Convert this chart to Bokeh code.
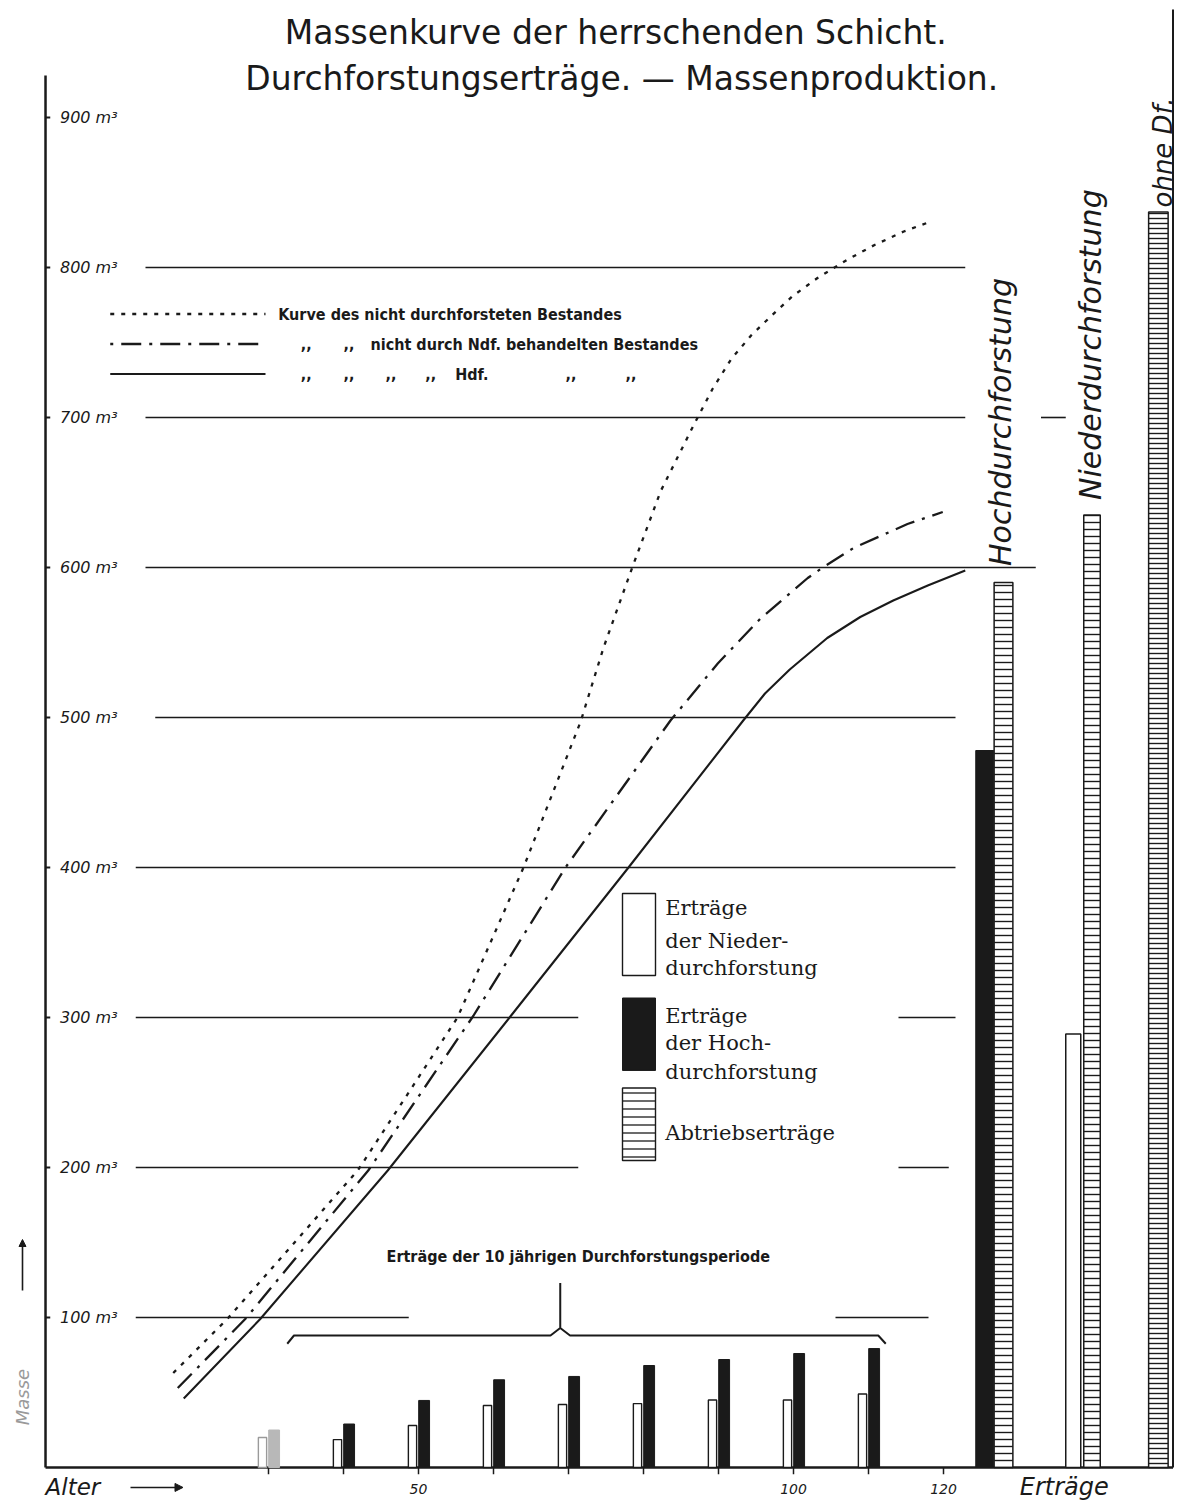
from bokeh.plotting import figure
from bokeh.models import Label, Arrow, NormalHead, Range1d
from bokeh.embed import file_html
from bokeh.resources import INLINE
from bokeh.core.properties import value

# ---------------- data ----------------
# curves: standing volume (m3) over stand age (years)
curve_ohne_age = [17.3, 24.5, 41.9, 48.3, 55.2, 64.0, 71.6, 74.7, 78.5, 82.3, 86.7, 89.2, 91.7, 94.4, 97.1,
                  99.9, 103.2, 107.1, 110.8, 114.7, 118.5]
curve_ohne_vol = [63, 99, 198, 247, 300, 400, 497, 547, 600, 651, 695, 719, 739, 755, 768,
                  781, 793, 805, 815, 824, 831]
curve_ndf_age = [17.9, 26.9, 43.3, 57.3, 69.6, 83.6, 89.9, 95.6, 101.9, 103.9, 108.0, 115.2, 119.9]
curve_ndf_vol = [53, 99, 198, 301, 400, 498, 536, 566, 593, 600, 613, 629, 637]
curve_hdf_age = [18.7, 28.9, 45.9, 62.3, 78.0, 93.3, 96.2, 99.5, 104.5, 108.9, 113.3, 117.9, 122.9]
curve_hdf_vol = [46, 99, 198, 301, 400, 498, 516, 532, 553, 567, 578, 588, 598]

# 10-year thinning yields
thin_ages = [30, 40, 50, 60, 70, 80, 90, 100, 110]
thin_nieder = [20, 18.6, 28, 41.3, 42, 42.6, 45, 45, 49]
thin_hoch = [25, 29, 44.7, 58.5, 60.7, 68, 72, 76, 79.3]

# totals on the right
final_groups = ["Hochdurchforstung", "Niederdurchforstung", "ohne Df."]
final_thinning = [478, 289, 0]
final_harvest = [590, 635, 837]

y_tick_vals = [900, 800, 700, 600, 500, 400, 300, 200, 100]
y_tick_labels = ["900 m³", "800 m³", "700 m³", "600 m³", "500 m³", "400 m³", "300 m³", "200 m³", "100 m³"]
x_tick_vals = [30, 40, 50, 60, 70, 80, 90, 100, 110, 120]
x_label_vals = [50, 100, 120]
x_label_text = ["50", "100", "120"]

# partial horizontal rules (level, from age, to age)
grid_levels = [800, 700, 700, 600, 500, 400, 300, 300, 200, 200, 100, 100]
grid_from = [13.6, 13.6, 133.0, 13.6, 14.9, 12.3, 12.3, 114.0, 12.3, 114.0, 12.3, 105.6]
grid_to = [122.9, 122.9, 136.3, 132.3, 121.6, 121.6, 71.3, 121.6, 71.3, 120.7, 48.7, 118.0]

# ---------------- figure ----------------
p = figure(width=1178, height=1500,
           x_range=Range1d(-5.733, 151.333), y_range=Range1d(-22.0, 978.0),
           output_backend="svg", toolbar_location=None,
           x_axis_location=None, y_axis_location=None,
           min_border=0, outline_line_color=None)
p.grid.visible = False
p.background_fill_color = "white"

INK = "#1a1a1a"
HAND_S = "DejaVu Sans"
NARROW_S = "DejaVu Sans Condensed, Roboto"
HAND = value(HAND_S)
SERIF = value("DejaVu Serif")

# axes frame
p.segment(x0=[0.27], y0=[0], x1=[0.27], y1=[928], line_color=INK, line_width=2.5)
p.segment(x0=[150.6], y0=[0], x1=[150.6], y1=[972], line_color=INK, line_width=2)
p.segment(x0=[0.27], y0=[0], x1=[150.6], y1=[0], line_color=INK, line_width=2.5)
p.segment(x0=x_tick_vals, y0=[0] * len(x_tick_vals), x1=x_tick_vals, y1=[-4.5] * len(x_tick_vals),
          line_color=INK, line_width=1.5)
p.segment(x0=[0.27] * len(y_tick_vals), y0=y_tick_vals, x1=[0.9] * len(y_tick_vals), y1=y_tick_vals,
          line_color=INK, line_width=2)

# horizontal rules
p.segment(x0=grid_from, y0=grid_levels, x1=grid_to, y1=grid_levels, line_color=INK, line_width=1.6)

# y labels
p.text(x=[2.2] * len(y_tick_vals), y=y_tick_vals, text=y_tick_labels, text_font=HAND,
       text_font_style="italic", text_font_size="16px", text_baseline="middle", text_color=INK)

# x labels
p.text(x=x_label_vals, y=[-14.5] * len(x_label_vals), text=x_label_text, text_font=HAND,
       text_font_style="italic", text_font_size="14px", text_align="center", text_baseline="middle",
       text_color=INK)

# curves
p.line(curve_ohne_age, curve_ohne_vol, line_color=INK, line_width=2.3, line_dash="4 7")
p.line(curve_ndf_age, curve_ndf_vol, line_color=INK, line_width=2.3, line_dash="20 8 3 8")
p.line(curve_hdf_age, curve_hdf_vol, line_color=INK, line_width=2.1)

# thinning bars
n_line = ["#9a9a9a" if a == 30 else INK for a in thin_ages]
h_fill = ["#b8b8b8" if a == 30 else INK for a in thin_ages]
p.vbar(x=[a - 0.8 for a in thin_ages], width=1.1, top=thin_nieder, bottom=0,
       fill_color="white", line_color=n_line, line_width=1.4)
p.vbar(x=[a + 0.75 for a in thin_ages], width=1.45, top=thin_hoch, bottom=0,
       fill_color=h_fill, line_color=h_fill, line_width=1)

# final totals
thin_x = [125.5, 137.3]
thin_w = [2.4, 2.0]
p.vbar(x=thin_x[:1], width=thin_w[0], top=final_thinning[:1], bottom=0,
       fill_color=INK, line_color=INK, line_width=1)
p.vbar(x=thin_x[1:], width=thin_w[1], top=final_thinning[1:2], bottom=0,
       fill_color="white", line_color=INK, line_width=1.5)
harv_x = [128.0, 139.8, 148.65]
harv_w = [2.5, 2.2, 2.6]
hatch_sp = [7, 7, 5]
for i in range(3):
    p.vbar(x=[harv_x[i]], width=harv_w[i], top=[final_harvest[i]], bottom=0,
           fill_color="white", line_color=INK, line_width=1.5,
           hatch_pattern="horizontal_line", hatch_color=INK, hatch_weight=1.4, hatch_scale=hatch_sp[i])

# rotated group labels
rot_x = [127.6, 139.6, 149.3]
rot_y = [601, 645, 840]
rot_size = ["30px", "30px", "26px"]
for i in range(3):
    p.add_layout(Label(x=rot_x[i], y=rot_y[i], text=final_groups[i], angle=90, angle_units="deg",
                       text_font=HAND_S, text_font_style="italic", text_font_size=rot_size[i],
                       text_align="left", text_baseline="middle", text_color=INK))

# title
p.add_layout(Label(x=76.3, y=956.7, text="Massenkurve der herrschenden Schicht.", text_font=HAND_S,
                   text_font_size="33px", text_align="center", text_baseline="middle", text_color=INK))
p.add_layout(Label(x=77.1, y=926, text="Durchforstungserträge. — Massenproduktion.", text_font=HAND_S,
                   text_font_size="33px", text_align="center", text_baseline="middle", text_color=INK))

# curve legend
leg_y = [769, 749, 729]
p.line([8.9, 29.6], [leg_y[0]] * 2, line_color=INK, line_width=2.3, line_dash="4 7")
p.line([8.9, 29.6], [leg_y[1]] * 2, line_color=INK, line_width=2.3, line_dash="3 8 20 8")
p.line([8.9, 29.6], [leg_y[2]] * 2, line_color=INK, line_width=2.1)


def narrow(x, y, t, size="16px", align="left"):
    p.add_layout(Label(x=x, y=y, text=t, text_font=NARROW_S, text_font_style="bold",
                       text_font_size=size, text_align=align, text_baseline="middle", text_color=INK))


narrow(31.3, leg_y[0], "Kurve des nicht durchforsteten Bestandes")
for dx in [34.3, 40.0]:
    narrow(dx, leg_y[1], ",,")
narrow(43.6, leg_y[1], "nicht durch Ndf. behandelten Bestandes")
for dx in [34.3, 40.0, 45.6, 50.9, 69.6, 77.6]:
    narrow(dx, leg_y[2], ",,")
narrow(54.9, leg_y[2], "Hdf.")

# brace over thinning bars
brace_x = [32.5, 33.4, 67.6, 68.9, 68.9, 68.9, 70.2, 111.3, 112.3]
brace_y = [82.5, 88, 88, 93, 123, 93, 88, 88, 82.5]
p.line(brace_x, brace_y, line_color=INK, line_width=2)
narrow(71.3, 141, "Erträge der 10 jährigen Durchforstungsperiode", size="16px", align="center")

# bar legend
p.quad(left=[77.2], right=[81.6], top=[382.7], bottom=[328], fill_color="white", line_color=INK, line_width=1.4)
p.quad(left=[77.2], right=[81.6], top=[313], bottom=[264.7], fill_color=INK, line_color=INK, line_width=1)
p.quad(left=[77.2], right=[81.6], top=[253], bottom=[204.7], fill_color="white", line_color=INK, line_width=1.4,
       hatch_pattern="horizontal_line", hatch_color=INK, hatch_weight=1.3, hatch_scale=8)
leg_texts = ["Erträge", "der Nieder-", "durchforstung", "Erträge", "der Hoch-", "durchforstung", "Abtriebserträge"]
leg_ty = [373, 351, 332.7, 301, 283, 264, 222.7]
p.text(x=[82.9] * len(leg_texts), y=leg_ty, text=leg_texts, text_font=SERIF, text_font_size="21px",
       text_baseline="middle", text_color=INK)

# bottom labels
p.add_layout(Label(x=0.27, y=-13.3, text="Alter", text_font=HAND_S, text_font_style="italic",
                   text_font_size="23px", text_align="left", text_baseline="middle", text_color=INK))
p.add_layout(Arrow(end=NormalHead(size=8, fill_color=INK, line_color=INK), x_start=11.6, y_start=-13.3,
                   x_end=18.6, y_end=-13.3, line_width=1.6, line_color=INK))
p.add_layout(Label(x=136.1, y=-13.3, text="Erträge", text_font=HAND_S, text_font_style="italic",
                   text_font_size="24px", text_align="center", text_baseline="middle", text_color=INK))
p.add_layout(Label(x=-2.8, y=47, text="Masse", angle=90, angle_units="deg", text_font=HAND_S,
                   text_font_style="italic", text_font_size="18px", text_align="center",
                   text_baseline="middle", text_color="#9a9a9a"))
p.add_layout(Arrow(end=NormalHead(size=7, fill_color=INK, line_color=INK), x_start=-2.8, y_start=118,
                   x_end=-2.8, y_end=152, line_width=1.6, line_color=INK))

open("out.html", "w").write(file_html(p, INLINE))
